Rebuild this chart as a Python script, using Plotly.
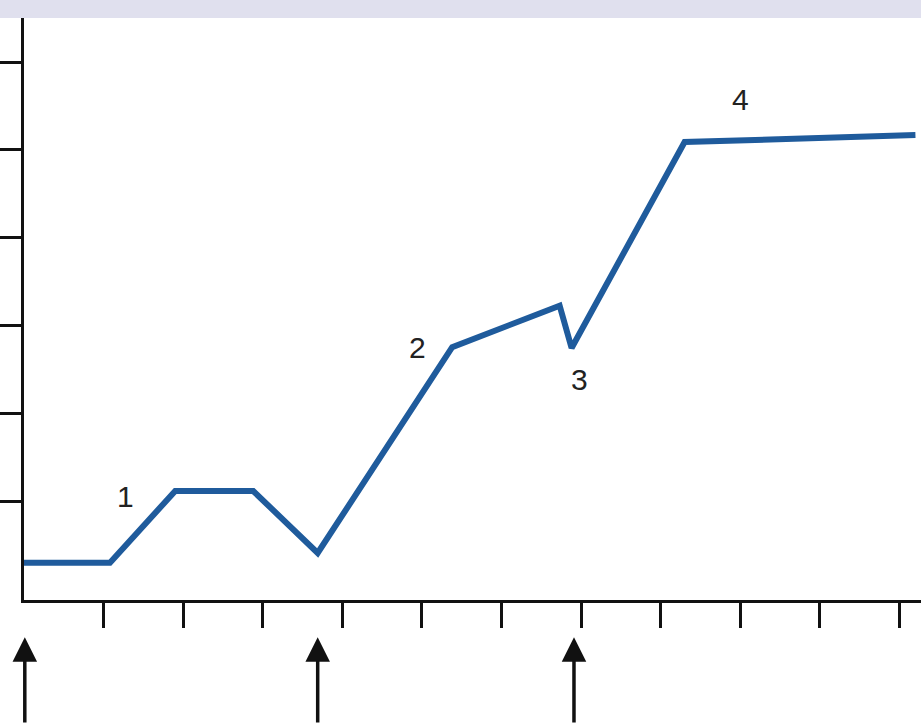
import plotly.graph_objects as go

# Data
line_x = [0.0, 1.08, 1.90, 2.88, 3.69, 5.38, 6.73, 6.88, 8.30, 11.20]
line_y = [-0.69, -0.69, 0.125, 0.125, -0.58, 1.76, 2.23, 1.75, 4.09, 4.17]

label_text = ["1", "2", "3", "4"]
label_x = [1.27, 4.95, 6.98, 9.0]
label_y = [0.06, 1.75, 1.39, 4.57]

arrow_x = [0.01, 3.69, 6.91]

x_ticks = list(range(1, 12))
y_ticks = list(range(0, 6))

fig = go.Figure()
fig.add_trace(go.Scatter(
    x=line_x, y=line_y, mode="lines",
    line=dict(color="#1f5b9c", width=6),
    hoverinfo="skip", showlegend=False,
))

for t, x, y in zip(label_text, label_x, label_y):
    fig.add_annotation(x=x, y=y, xref="x", yref="y", text=t, showarrow=False,
                       font=dict(family="Liberation Sans, Arial", size=30, color="#222222"))

for x in arrow_x:
    fig.add_annotation(x=x, y=-0.064, xref="x", yref="paper", text="",
                       showarrow=True, ax=0, ay=100, axref="pixel", ayref="pixel",
                       arrowhead=2, arrowsize=1.4, arrowwidth=3.5, arrowcolor="#111111")

# lavender band at top
fig.add_shape(type="rect", xref="paper", yref="paper",
              x0=-0.03, x1=1.01, y0=1.0, y1=1.04,
              fillcolor="#e0e0ee", line=dict(width=0), layer="below")

fig.update_layout(
    width=921, height=724,
    margin=dict(l=24, r=0, t=18, b=124),
    paper_bgcolor="white", plot_bgcolor="white",
    showlegend=False,
    xaxis=dict(range=[0, 11.27], showgrid=False, zeroline=False,
               showline=True, linecolor="#111111", linewidth=3,
               ticks="outside", ticklen=25, tickwidth=3, tickcolor="#111111",
               tickvals=x_ticks, showticklabels=False, fixedrange=True),
    yaxis=dict(range=[-1.114, 5.5], showgrid=False, zeroline=False,
               showline=True, linecolor="#111111", linewidth=3,
               ticks="outside", ticklen=24, tickwidth=3, tickcolor="#111111",
               tickvals=y_ticks, showticklabels=False, fixedrange=True),
)

fig.write_html("out.html", config={"displayModeBar": False},
               post_script="document.body.style.margin='0px';")
